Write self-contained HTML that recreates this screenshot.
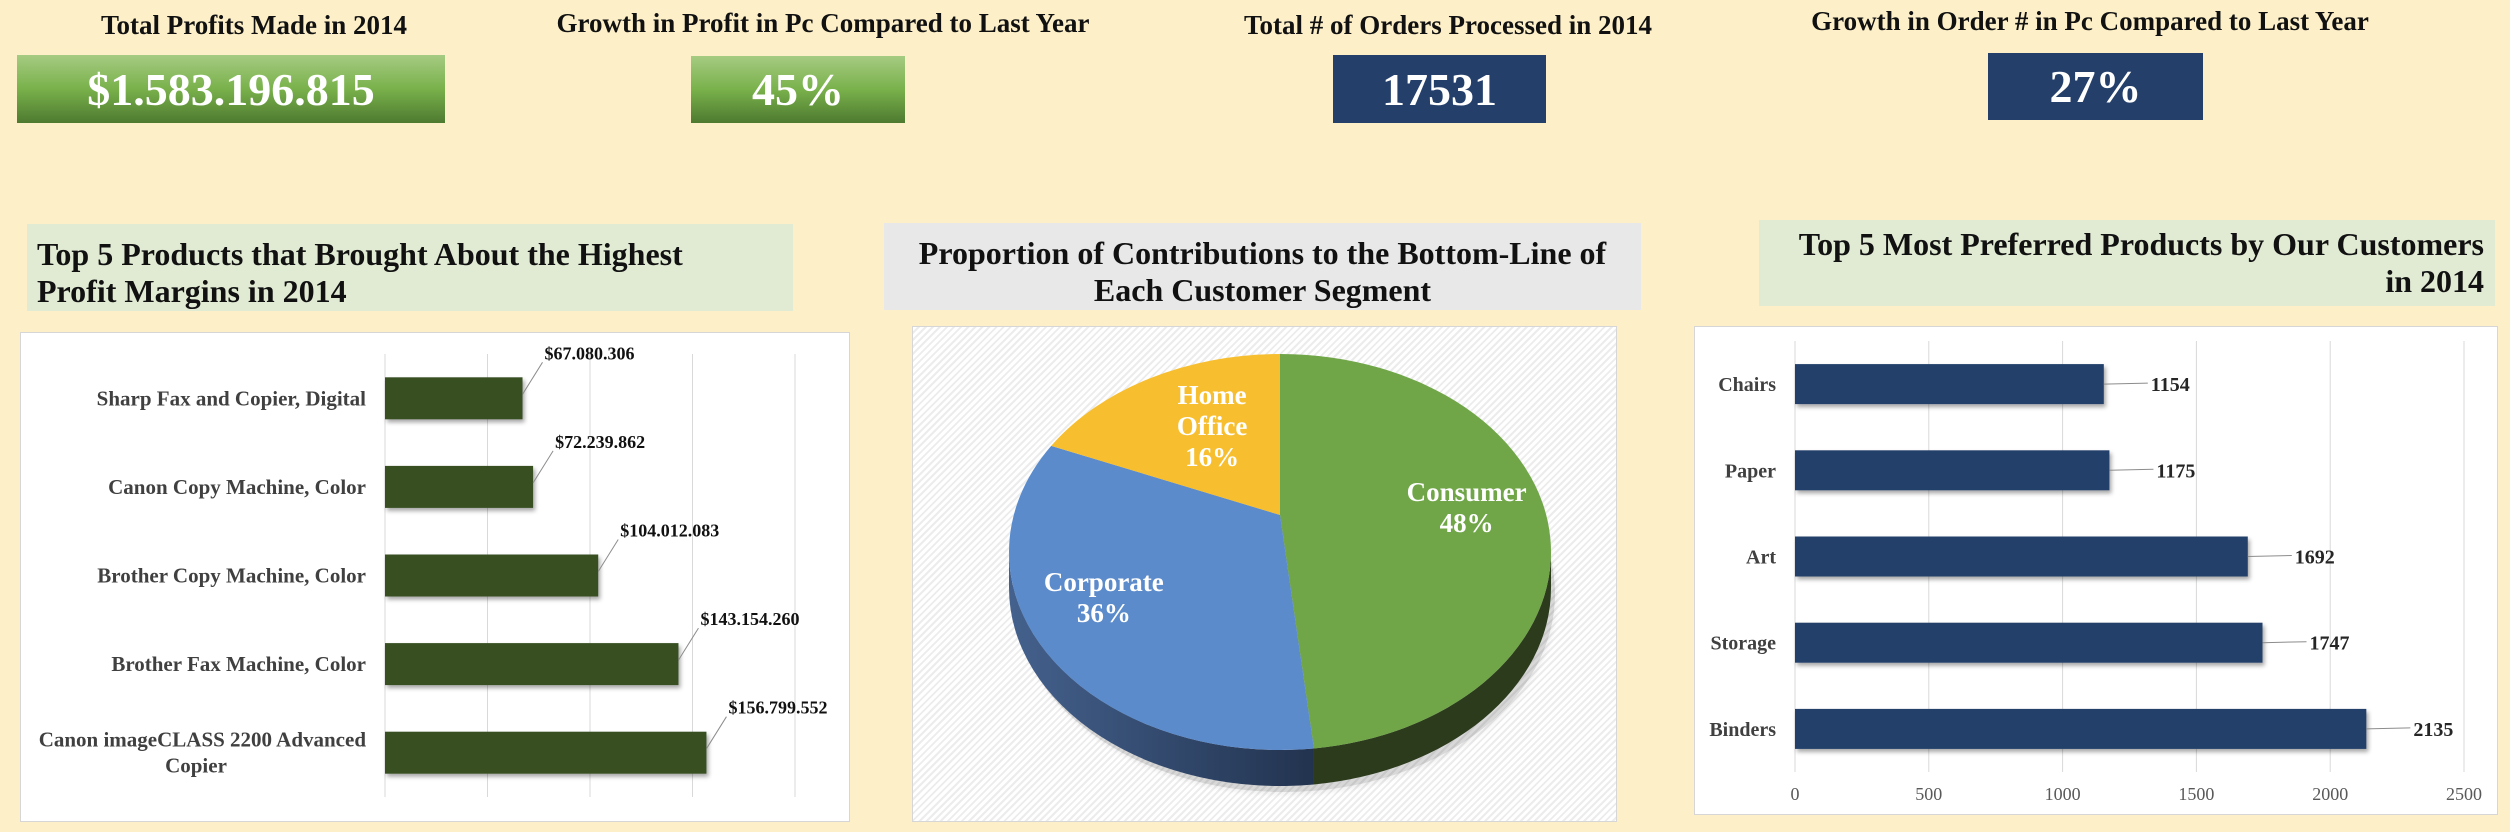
<!DOCTYPE html>
<html><head><meta charset="utf-8">
<style>
html,body{margin:0;padding:0}
body{width:2510px;height:832px;background:#fdf0c9;position:relative;overflow:hidden;font-family:"Liberation Serif",serif}
.abs{position:absolute}
.kt{position:absolute;font-weight:bold;font-size:27px;color:#111;white-space:nowrap;text-align:center}
.kv{position:absolute;color:#fff;font-weight:bold;font-size:46px;display:flex;align-items:center;justify-content:center}
.green{background:linear-gradient(#a6cb82,#79b14b 50%,#4e7a30)}
.navy{background:#243f6a}
.pt{position:absolute;font-weight:bold;font-size:32px;color:#111;line-height:37px;box-sizing:border-box;white-space:nowrap}
.box{position:absolute;background:#fff;border:1px solid #d6d6d6;box-sizing:border-box}
</style></head><body>
<div class="kt" style="left:30px;top:10px;width:448px">Total Profits Made in 2014</div>
<div class="kv green" style="left:17px;top:55px;width:428px;height:68px">$1.583.196.815</div>
<div class="kt" style="left:500px;top:8px;width:646px">Growth in Profit in Pc Compared to Last Year</div>
<div class="kv green" style="left:691px;top:56px;width:214px;height:67px">45%</div>
<div class="kt" style="left:1190px;top:10px;width:516px">Total # of Orders Processed in 2014</div>
<div class="kv navy" style="left:1333px;top:55px;width:213px;height:68px">17531</div>
<div class="kt" style="left:1750px;top:6px;width:680px">Growth in Order # in Pc Compared to Last Year</div>
<div class="kv navy" style="left:1988px;top:53px;width:215px;height:67px">27%</div>

<div class="pt" style="left:27px;top:224px;width:766px;height:87px;background:#e1ebd4;padding:12px 10px">Top 5 Products that Brought About the Highest<br>Profit Margins in 2014</div>
<div class="pt" style="left:884px;top:223px;width:757px;height:87px;background:#e8e8e8;padding:12px 0;text-align:center">Proportion of Contributions to the Bottom-Line of<br>Each Customer Segment</div>
<div class="pt" style="left:1759px;top:220px;width:736px;height:86px;background:#e1ebd4;padding:6px 11px;text-align:right">Top 5 Most Preferred Products by Our Customers<br>in 2014</div>

<div class="box" style="left:20px;top:332px;width:830px;height:490px"></div>
<div class="box" style="left:912px;top:326px;width:705px;height:496px;background:repeating-linear-gradient(135deg,#fff 0 3px,#ececec 3px 5px)"></div>
<div class="box" style="left:1694px;top:326px;width:804px;height:489px"></div>

<svg id="svg" class="abs" style="left:0;top:0" width="2510" height="832" xmlns="http://www.w3.org/2000/svg" font-family="Liberation Serif, serif">
<defs>
<linearGradient id="blueSide" x1="0" x2="1" y1="0" y2="0"><stop offset="0" stop-color="#44618d"/><stop offset="1" stop-color="#22334f"/></linearGradient>
<filter id="sh" x="-5%" y="-5%" width="115%" height="130%"><feDropShadow dx="2" dy="3" stdDeviation="2" flood-color="#000" flood-opacity="0.35"/></filter>
</defs>
</svg>
<script>
// Profit chart data
const profitCats = ["Sharp Fax and Copier, Digital","Canon Copy Machine, Color","Brother Copy Machine, Color","Brother Fax Machine, Color","Canon imageCLASS 2200 Advanced Copier"];
const profitVals = [67080306,72239862,104012083,143154260,156799552];
const profitLabels = ["$67.080.306","$72.239.862","$104.012.083","$143.154.260","$156.799.552"];
const profitTicks = [0,50000000,100000000,150000000,200000000];
// Pie data
const segNames = ["Consumer","Corporate","Home Office"];
const segVals = [48,36,16];
// Preferred products data
const prefCats = ["Chairs","Paper","Art","Storage","Binders"];
const prefVals = [1154,1175,1692,1747,2135];
const prefTicks = [0,500,1000,1500,2000,2500];

const NS="http://www.w3.org/2000/svg";
const svg=document.getElementById('svg');
function mk(tag,attrs,parent){const e=document.createElementNS(NS,tag);for(const k in attrs)e.setAttribute(k,attrs[k]);(parent||svg).appendChild(e);return e;}

// ---- profit bar chart ----
(function(){
 const x0=385,x1=795,max=200000000;
 const xs=v=>x0+(v/max)*(x1-x0);
 const yTop=354,band=88.6,bh=42;
 const yc=i=>yTop+band*(i+0.5);
 profitTicks.forEach(t=>{const l=mk('line',{x1:xs(t),x2:xs(t),y1:354,y2:797,stroke:'#d9d9d9','stroke-width':1});
 
 });
 profitCats.forEach((c,i)=>{
  const r=mk('rect',{x:x0,y:yc(i)-bh/2,width:xs(profitVals[i])-x0,height:bh,fill:'#374f23',filter:'url(#sh)'});
  
  
  let lines=[c];
  if(c.length>32){lines=["Canon imageCLASS 2200 Advanced","Copier"];}
  lines.forEach((ln,j)=>{const t=mk('text',{x:366,y:yc(i)+7+(j-(lines.length-1)/2)*26,'text-anchor':lines.length>1&&j==1?'middle':'end','font-size':21,'font-weight':'bold',fill:'#404040'});
   if(lines.length>1&&j==1)t.setAttribute('x',196);
   t.textContent=ln;
   
   });
  const ex=xs(profitVals[i]),lx=ex+20,ly=yc(i)-bh/2-18;
  const ld=mk('line',{x1:ex,y1:yc(i)-4,x2:lx,y2:ly+3,stroke:'#8c8c8c','stroke-width':1});
  
  
  const v=mk('text',{x:lx+2,y:ly,'font-size':18,'font-weight':'bold',fill:'#111'});
  v.textContent=profitLabels[i];
  
  
 });
})();

// ---- pie chart ----
(function(){
 const cx=1280,cy=552,rx=271,ry=198,ax=1280,ay=515,depth=36;
 const total=segVals.reduce((a,b)=>a+b,0);
 const pt=(a)=>[cx+rx*Math.sin(a),cy-ry*Math.cos(a)];
 const colors=['#70a548','#5b8bcb','#f7bf30'];
 const sides=['#2b3b1c','url(#blueSide)','#a07a1c'];
 let a=0;const angs=[];
 segVals.forEach(v=>{const a2=a+v/total*2*Math.PI;angs.push([a,a2]);a=a2;});
 const shadow=mk('ellipse',{cx:cx+4,cy:cy+depth+6,rx:rx,ry:ry,fill:'#000',opacity:0.15,filter:'url(#sh)'});
 
 
 angs.forEach(([s,e],i)=>{
  const s2=Math.max(s,Math.PI/2),e2=Math.min(e,Math.PI*1.5);
  if(e2<=s2)return;
  const p1=pt(s2),p2=pt(e2);
  const large=(e2-s2)>Math.PI?1:0;
  const d=`M${p1[0]},${p1[1]} A${rx},${ry} 0 ${large} 1 ${p2[0]},${p2[1]} L${p2[0]},${p2[1]+depth} A${rx},${ry} 0 ${large} 0 ${p1[0]},${p1[1]+depth} Z`;
  const p=mk('path',{d:d,fill:sides[i]});
  
  
 });
 const fs=[0.69,0.77,0.52];
 angs.forEach(([s,e],i)=>{
  const p1=pt(s),p2=pt(e);const large=(e-s)>Math.PI?1:0;
  const d=`M${ax},${ay} L${p1[0]},${p1[1]} A${rx},${ry} 0 ${large} 1 ${p2[0]},${p2[1]} Z`;
  const p=mk('path',{d:d,fill:colors[i]});
  
  
  const mid=(s+e)/2;const f=fs[i];
  const lxp=ax+rx*f*Math.sin(mid),lyp=ay-ry*f*Math.cos(mid);
  const lines=segNames[i].split(' ').concat([segVals[i]+'%']);
  lines.forEach((ln,j)=>{const t=mk('text',{x:lxp,y:lyp+10+(j-(lines.length-1)/2)*31,'text-anchor':'middle','font-size':27,'font-weight':'bold',fill:'#fff'});
   t.textContent=ln;
   
   });
 });
})();

// ---- preferred products chart ----
(function(){
 const x0=1795,x1=2464,max=2500;
 const xs=v=>x0+(v/max)*(x1-x0);
 const yTop=341,band=86.2,bh=40;
 const yc=i=>yTop+band*(i+0.5);
 prefTicks.forEach(t=>{const l=mk('line',{x1:xs(t),x2:xs(t),y1:341,y2:772,stroke:'#d9d9d9','stroke-width':1});
  
  
  const tx=mk('text',{x:xs(t),y:800,'text-anchor':'middle','font-size':18,fill:'#595959'});
  tx.textContent=t;
  
  });
 prefCats.forEach((c,i)=>{
  const r=mk('rect',{x:x0,y:yc(i)-bh/2,width:xs(prefVals[i])-x0,height:bh,fill:'#243f6a',filter:'url(#sh)'});
  
  
  const t=mk('text',{x:1776,y:yc(i)+7,'text-anchor':'end','font-size':20,'font-weight':'bold',fill:'#404040'});
  t.textContent=c;
  
  
  const ex=xs(prefVals[i]);
  const ld=mk('line',{x1:ex,y1:yc(i),x2:ex+44,y2:yc(i)-1,stroke:'#8c8c8c','stroke-width':1});
  
  
  const v=mk('text',{x:ex+47,y:yc(i)+7,'font-size':20,'font-weight':'bold',fill:'#262626'});
  v.textContent=prefVals[i];
  
  
 });
})();
</script>
</body></html>
